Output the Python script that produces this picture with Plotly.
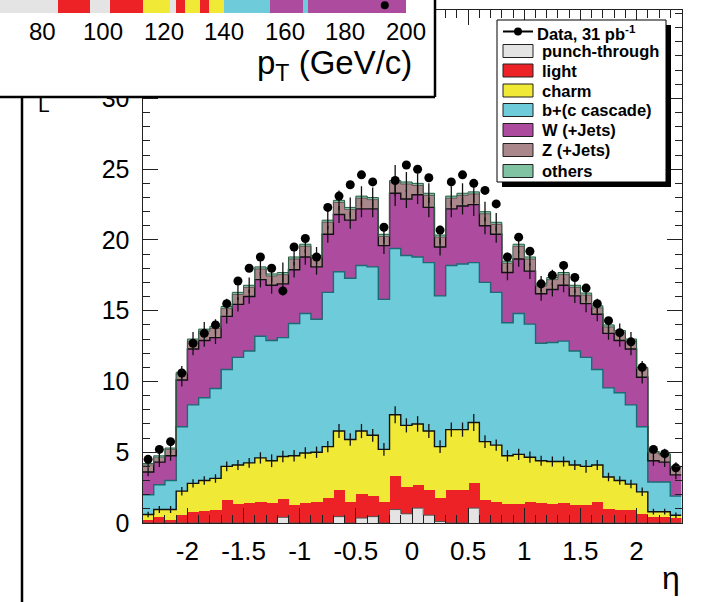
import plotly.graph_objects as go

FIG_W, FIG_H = 716, 602

# ------------------------------------------------------------------
# Main histogram: eta, 48 bins of width 0.1 from -2.4 to 2.4
# ------------------------------------------------------------------
eta_lo, eta_hi, eta_step = -2.4, 2.4, 0.1
n_bins = 48
eta_edges = [round(eta_lo + eta_step * i, 2) for i in range(n_bins + 1)]
eta_centers = [round(eta_lo + eta_step * (i + 0.5), 3) for i in range(n_bins)]

punch = [0, 0, 0, 0, 0, 0, 0, 0, 0, 0,
         0, 0, 0.4, 0, 0, 0, 0, 0.45, 0, 0.35,
         0.45, 0, 0.95, 0.65, 1.05, 0.55, 0.1, 0, 0, 1.05,
         0, 0, 0, 0, 0, 0, 0, 0, 0, 0,
         0, 0, 0, 0, 0, 0, 0, 0]
light = [0.2, 0.4, 0.2, 0.6, 0.75, 0.85, 0.95, 1.6, 1.35, 1.4,
         1.5, 1.4, 1.3, 1.3, 1.4, 1.5, 1.75, 1.9, 1.5, 1.7,
         1.45, 1.45, 2.35, 1.9, 1.65, 1.8, 1.65, 2.35, 2.35, 1.75,
         1.6, 1.5, 1.35, 1.35, 1.45, 1.4, 1.35, 1.4, 1.25, 1.3,
         1.5, 0.97, 0.9, 0.9, 0.65, 0.45, 0.4, 0.35]
charm = [0.4, 0.55, 0.75, 1.65, 2.05, 2.15, 2.2, 2.4, 2.75, 2.85,
         3.1, 3.0, 3.0, 3.45, 3.55, 3.5, 3.65, 4.15, 4.4, 4.45,
         4.3, 3.75, 4.35, 4.35, 4.3, 4.15, 3.65, 4.25, 4.25, 4.3,
         4.15, 4.0, 3.4, 3.5, 3.2, 3.0, 3.0, 2.95, 2.85, 2.7,
         2.6, 2.28, 2.1, 1.85, 1.55, 0.35, 0.4, 0.2]
bquark = [1.4, 1.75, 2.05, 4.55, 5.55, 5.85, 6.35, 6.85, 7.6, 7.9,
          8.6, 8.5, 8.4, 9.35, 9.85, 9.4, 10.9, 11.25, 11.4, 11.7,
          11.9, 10.6, 11.75, 12.0, 11.8, 11.9, 10.65, 11.6, 11.7, 11.3,
          11.25, 10.8, 9.4, 9.95, 9.4, 8.3, 8.4, 8.5, 8.05, 7.7,
          6.75, 6.3, 6.2, 5.6, 4.6, 2.1, 2.1, 1.35]
wjets = [1.6, 1.6, 1.75, 3.3, 3.95, 4.05, 3.6, 3.75, 3.75, 3.85,
         4.0, 3.9, 3.8, 3.8, 4.0, 3.7, 4.1, 4.05, 4.1, 4.0,
         4.1, 3.8, 3.9, 4.0, 4.4, 3.9, 3.45, 4.0, 4.1, 4.1,
         4.0, 4.1, 3.55, 3.85, 3.75, 3.5, 3.75, 3.95, 3.9, 3.8,
         3.9, 3.85, 3.7, 3.95, 3.5, 1.5, 1.4, 1.5]
zjets = [0.5, 0.35, 0.45, 0.45, 0.55, 0.65, 0.65, 0.55, 0.7, 0.65,
         0.75, 0.65, 0.65, 0.75, 0.75, 0.65, 0.85, 0.85, 0.75, 0.75,
         0.65, 0.65, 0.75, 1.05, 0.65, 0.85, 0.7, 0.75, 0.75, 0.75,
         0.85, 0.7, 0.65, 0.9, 0.85, 0.55, 0.7, 0.75, 0.6, 0.6,
         0.45, 0.45, 0.55, 0.55, 0.6, 0.55, 0.5, 0.5]
others = [0.1, 0.1, 0.1, 0.1, 0.15, 0.15, 0.15, 0.15, 0.15, 0.15,
          0.15, 0.15, 0.15, 0.15, 0.15, 0.15, 0.15, 0.15, 0.15, 0.15,
          0.15, 0.15, 0.15, 0.15, 0.15, 0.15, 0.15, 0.15, 0.15, 0.15,
          0.15, 0.15, 0.15, 0.15, 0.15, 0.15, 0.15, 0.15, 0.15, 0.15,
          0.15, 0.15, 0.15, 0.15, 0.1, 0.1, 0.1, 0.1]
data = [4.5, 5.2, 5.75, 10.6, 12.7, 13.4, 14.0, 15.5, 17.1, 18.0,
        18.8, 18.0, 16.4, 19.5, 20.1, 18.8, 22.3, 23.1, 23.9, 24.6,
        24.1, 20.9, 24.2, 25.3, 25.0, 24.4, 20.7, 24.1, 24.6, 24.0,
        23.5, 22.55, 18.8, 20.2, 19.2, 16.9, 17.5, 18.2, 17.35, 16.6,
        15.5, 14.3, 13.45, 12.8, 11.0, 5.2, 4.9, 3.9]

# MC statistical uncertainties drawn at the top of some stacked layers
err_charm_top = [0.2, 0.25, 0.25, 0.3, 0.3, 0.3, 0.3, 0.35, 0.35, 0.35,
                 0.4, 0.45, 0.4, 0.4, 0.4, 0.4, 0.4, 0.5, 0.45, 0.5,
                 0.45, 0.45, 0.6, 0.5, 0.55, 0.5, 0.45, 0.5, 0.5, 0.6,
                 0.45, 0.4, 0.4, 0.4, 0.4, 0.35, 0.35, 0.35, 0.35, 0.45,
                 0.35, 0.3, 0.3, 0.3, 0.3, 0.2, 0.2, 0.2]
err_w_top = [0.3, 0.35, 0.35, 0.45, 0.45, 0.45, 0.45, 0.5, 0.5, 0.5,
             0.55, 0.6, 0.8, 0.55, 0.55, 0.55, 0.6, 0.6, 0.6, 0.6,
             0.6, 0.6, 0.9, 0.65, 0.65, 0.7, 0.6, 0.6, 0.6, 0.8,
             0.6, 0.6, 0.55, 0.55, 0.55, 0.5, 0.5, 0.5, 0.5, 0.6,
             0.5, 0.45, 0.45, 0.45, 0.45, 0.35, 0.35, 0.3]
err_total = [0.3, 0.35, 0.35, 0.45, 0.5, 0.5, 0.5, 0.55, 0.55, 0.55,
             0.6, 0.6, 0.7, 0.6, 0.6, 0.6, 0.65, 0.7, 0.7, 0.7,
             0.7, 0.65, 1.1, 0.7, 0.7, 0.7, 0.65, 0.7, 0.7, 0.75,
             0.7, 0.65, 0.6, 0.6, 0.6, 0.55, 0.55, 0.55, 0.55, 0.55,
             0.5, 0.5, 0.5, 0.5, 0.45, 0.35, 0.35, 0.3]

series_names = ["punch-through", "light", "charm", "b+(c cascade)",
                "W (+Jets)", "Z (+Jets)", "others"]
series_values = [punch, light, charm, bquark, wjets, zjets, others]
series_colors = ["#e4e4e4", "#ec2227", "#f0e935", "#6ecbd9",
                 "#ad4c9f", "#a9878b", "#7fc3a3"]
data_label = "Data, 31 pb<sup>-1</sup>"

# ------------------------------------------------------------------
# Cropped inset from a neighbouring pT plot (only its bottom strip shows)
# ------------------------------------------------------------------
inset_ticks = [80, 100, 120, 140, 160, 180, 200]
inset_edges = [65.8, 85.0, 95.5, 102.0, 113.0, 122.0, 124.0, 127.0,
               132.0, 135.0, 140.0, 155.0, 166.0, 167.5, 200.0]
inset_layer = [0, 1, 0, 1, 2, 0, 1, 2, 1, 2, 3, 4, 3, 4]
inset_heights = [3.0, 2.5, 2.8, 2.6, 2.2, 2.0, 2.4, 2.1, 2.3, 2.2,
                 2.6, 3.2, 2.9, 3.4]
inset_data_x = [193.0]
inset_data_y = [0.6]

# ------------------------------------------------------------------
# Geometry helpers (pixels -> paper)
# ------------------------------------------------------------------
def px(x):
    return x / FIG_W


def py(y):
    return 1 - y / FIG_H


FONT = "Liberation Sans, Arial, Helvetica, sans-serif"

fig = go.Figure()

# stacked histogram (explicit bases, overlay mode)
cums = []
run = [0.0] * n_bins
for name, vals, col in zip(series_names, series_values, series_colors):
    fig.add_trace(go.Bar(x=eta_centers, y=vals, base=run, width=eta_step, name=name,
                         marker=dict(color=col, line=dict(width=0)),
                         hoverinfo="skip", showlegend=False))
    run = [a + b for a, b in zip(run, vals)]
    cums.append(run)

outline_style = {0: ("#555555", 1.0), 2: ("#111111", 1.4), 3: ("#1d6a73", 1.4),
                 4: ("#111111", 1.4), 5: ("#5a4a4c", 0.8), 6: ("#2e5e48", 1.0)}
for k, (lc, lw) in outline_style.items():
    c = cums[k]
    fig.add_trace(go.Scatter(x=eta_edges, y=c + [c[-1]], mode="lines",
                             line=dict(color=lc, width=lw, shape="hv"),
                             hoverinfo="skip", showlegend=False))

for k, err in ((2, err_charm_top), (4, err_w_top), (6, err_total)):
    fig.add_trace(go.Scatter(x=eta_centers, y=cums[k], mode="markers",
                             marker=dict(size=1, color="rgba(0,0,0,0)"),
                             error_y=dict(type="data", array=err, color="#111111",
                                          thickness=1.3, width=0),
                             hoverinfo="skip", showlegend=False))

# data
fig.add_trace(go.Scatter(x=eta_centers, y=data, mode="markers", name="Data",
                         marker=dict(color="black", size=9),
                         hoverinfo="skip", showlegend=False))

# inset subplot (drawn after the main subplot, so it hides what lies below)
x2_range = [65.8, 209.6]
y2_range = [-6.46, 1.0]
fig.add_trace(go.Bar(x=[(x2_range[0] + x2_range[1]) / 2 + 0.013],
                     y=[y2_range[1] - y2_range[0] + 1], base=[y2_range[0]],
                     width=[x2_range[1] - x2_range[0] + 2],
                     marker=dict(color="white", line=dict(width=0)),
                     xaxis="x2", yaxis="y2", hoverinfo="skip", showlegend=False))
inset_x = [(a + b) / 2 for a, b in zip(inset_edges[:-1], inset_edges[1:])]
inset_w = [b - a for a, b in zip(inset_edges[:-1], inset_edges[1:])]
fig.add_trace(go.Bar(x=inset_x, y=inset_heights, base=[0] * len(inset_x), width=inset_w,
                     marker=dict(color=[series_colors[i] for i in inset_layer],
                                 line=dict(width=0)),
                     xaxis="x2", yaxis="y2", hoverinfo="skip", showlegend=False))
fig.add_trace(go.Scatter(x=inset_data_x, y=inset_data_y, mode="markers",
                         marker=dict(color="black", size=8), xaxis="x2", yaxis="y2",
                         hoverinfo="skip", showlegend=False))

# ------------------------------------------------------------------
# Axes
# ------------------------------------------------------------------
x_ticks = [-2, -1.5, -1, -0.5, 0, 0.5, 1, 1.5, 2]
y_ticks = [0, 5, 10, 15, 20, 25, 30]

fig.update_layout(
    template=None,
    width=FIG_W, height=FIG_H, autosize=False,
    margin=dict(l=0, r=0, t=0, b=0, pad=0, autoexpand=False),
    paper_bgcolor="white", plot_bgcolor="white",
    barmode="overlay", bargap=0, showlegend=False, hovermode=False,
    font=dict(family=FONT, color="black"),
    xaxis=dict(domain=[px(142.5), px(681.5)], range=[eta_lo, eta_hi], automargin=False,
               tickmode="array", tickvals=x_ticks, ticktext=[f"{v:g}" for v in x_ticks],
               ticks="inside", ticklen=15, tickwidth=1, tickcolor="#222",
               minor=dict(ticks="inside", ticklen=8, tickmode="linear", tick0=0,
                          dtick=0.1, tickcolor="#222", tickwidth=1),
               showline=True, linecolor="#222", linewidth=1, mirror="ticks",
               showgrid=False, zeroline=False, ticklabelstandoff=5,
               tickfont=dict(size=26, family=FONT, color="black")),
    yaxis=dict(domain=[1 - 523 / FIG_H, 1 - 10 / FIG_H], range=[0, 36.25], automargin=False,
               tickmode="array", tickvals=y_ticks, ticktext=[str(v) for v in y_ticks],
               ticks="inside", ticklen=15, tickwidth=1, tickcolor="#222",
               minor=dict(ticks="inside", ticklen=7, tickmode="linear", tick0=0,
                          dtick=1, tickcolor="#222", tickwidth=1),
               showline=True, linecolor="#222", linewidth=1, mirror="ticks",
               showgrid=False, zeroline=False, ticklabelstandoff=7,
               tickfont=dict(size=25, family=FONT, color="black")),
    xaxis2=dict(domain=[0, px(435)], range=x2_range, anchor="free", automargin=False,
                position=1.0, showticklabels=False, ticks="",
                showline=False, showgrid=False, zeroline=False),
    yaxis2=dict(domain=[1 - 97 / FIG_H, 1], range=y2_range, anchor="x2", automargin=False,
                visible=False, showgrid=False, zeroline=False),
)

# ------------------------------------------------------------------
# Decorations: inset frame, left border line, legend
# ------------------------------------------------------------------
shapes = []
line_k = dict(color="black", width=2.5)
shapes.append(dict(type="line", xref="paper", yref="paper", x0=px(0), x1=px(435),
                   y0=py(97), y1=py(97), line=line_k, layer="above"))
shapes.append(dict(type="line", xref="paper", yref="paper", x0=px(435), x1=px(435),
                   y0=py(0), y1=py(97), line=line_k, layer="above"))
shapes.append(dict(type="line", xref="paper", yref="paper", x0=px(22), x1=px(22),
                   y0=py(97), y1=py(602), line=line_k, layer="above"))

# legend box with ROOT-style shadow
shapes.append(dict(type="rect", xref="paper", yref="paper", x0=px(502), x1=px(671),
                   y0=py(187), y1=py(25), fillcolor="black", line=dict(width=0),
                   layer="above"))
shapes.append(dict(type="rect", xref="paper", yref="paper", x0=px(497), x1=px(666),
                   y0=py(182), y1=py(20), fillcolor="white",
                   line=dict(color="black", width=1), layer="above"))

annotations = []
# tick labels of the cropped inset axis, placed through its x2 scale
for v in inset_ticks:
    annotations.append(dict(xref="x2", yref="paper", x=v, y=py(31.5),
                            xanchor="center", yanchor="middle", showarrow=False,
                            text=str(v), font=dict(size=24, family=FONT, color="black")))

leg_y = [31.5, 51, 70.5, 90.5, 110, 130, 150, 171]
leg_font = 16.5
# data entry
shapes.append(dict(type="line", xref="paper", yref="paper", x0=px(503), x1=px(533),
                   y0=py(leg_y[0]), y1=py(leg_y[0]), line=dict(color="black", width=2),
                   layer="above"))
shapes.append(dict(type="circle", xref="paper", yref="paper", x0=px(514), x1=px(522),
                   y0=py(leg_y[0] + 4), y1=py(leg_y[0] - 4), fillcolor="black",
                   line=dict(width=0), layer="above"))
annotations.append(dict(xref="paper", yref="paper", x=px(535), y=py(leg_y[0] + 1),
                        xanchor="left", yanchor="middle", showarrow=False,
                        text="<b>" + data_label + "</b>",
                        font=dict(size=leg_font, family=FONT, color="black")))
for yc, name, col in zip(leg_y[1:], series_names, series_colors):
    shapes.append(dict(type="rect", xref="paper", yref="paper", x0=px(503), x1=px(533),
                       y0=py(yc + 6.5), y1=py(yc - 6.5), fillcolor=col,
                       line=dict(color="#222", width=1), layer="above"))
    annotations.append(dict(xref="paper", yref="paper", x=px(540), y=py(yc),
                            xanchor="left", yanchor="middle", showarrow=False,
                            text="<b>" + name + "</b>",
                            font=dict(size=leg_font, family=FONT, color="black")))

# axis titles
annotations.append(dict(xref="paper", yref="paper", x=px(671), y=py(578),
                        xanchor="center", yanchor="middle", showarrow=False,
                        text="η", font=dict(size=32, family=FONT, color="black")))
annotations.append(dict(xref="paper", yref="paper", x=px(414), y=py(65),
                        xanchor="right", yanchor="middle", showarrow=False,
                        text="p<sub>T</sub> (GeV/c)",
                        font=dict(size=33, family=FONT, color="black")))
# cropped end of the main y-axis title
annotations.append(dict(xref="paper", yref="paper", x=px(44), y=py(104),
                        xanchor="center", yanchor="middle", showarrow=False,
                        text="L", font=dict(size=21, family=FONT, color="black")))

fig.update_layout(shapes=shapes, annotations=annotations)

fig.write_html("out.html", config={"displayModeBar": False, "responsive": False},
               post_script="document.body.style.margin='0';document.body.style.padding='0';")
